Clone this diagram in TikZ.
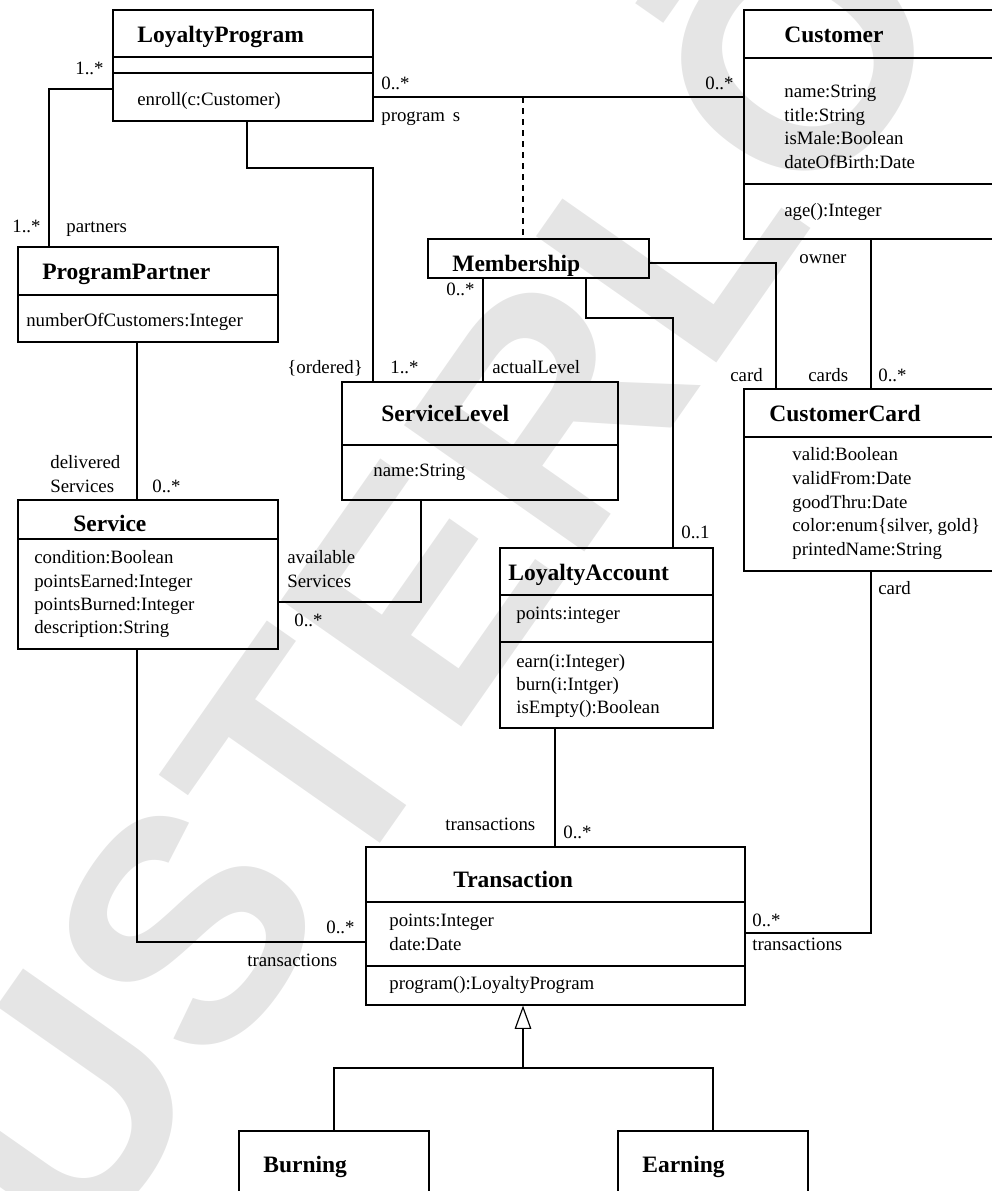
\documentclass[tikz,border=0pt]{standalone}
\usepackage{fontspec}
\setmainfont{Liberation Serif}
\newfontfamily\wmfont{Liberation Sans}
\usepackage{tikz}
\usetikzlibrary{arrows.meta,fit}
\definecolor{wm-gray}{RGB}{229,229,229}
\tikzset{
    cls/.style={draw, line width=0.7pt, inner sep=0pt},
    ttl/.style={font=\fontsize{14.1}{16}\selectfont\bfseries, inner sep=0pt, anchor=base west},
    txt/.style={font=\fontsize{11.3}{13}\selectfont, inner sep=0pt, anchor=base west},
    assoc/.style={line width=0.7pt},
}

\begin{document}
\begin{tikzpicture}[x=0.6pt, y=-0.6pt]
    \useasboundingbox (0,0) rectangle (992,1191);

    % watermark
    \node[wm-gray, font=\wmfont\fontsize{192}{192}\selectfont\bfseries, rotate=55, anchor=base, inner sep=0pt] (wm) at (710,373) {MUSTERLÖSUNG};

    % classes
    \node[cls, fit={(113,10) (373,121)}] (LP) {};
    \draw[line width=0.7pt] (113,57) -- (373,57) (113,73) -- (373,73);
    \node[ttl] (LP-name) at (137,42) {LoyaltyProgram};
    \node[txt] (LP-op1) at (137,105) {enroll(c:Customer)};

    \node[cls, fit={(744,10) (1000,239)}] (Cust) {};
    \draw[line width=0.7pt] (744,58) -- (1000,58) (744,184) -- (1000,184);
    \node[ttl] (Cust-name) at (784,42) {Customer};
    \node[txt] (Cust-at1) at (784,97) {name:String};
    \node[txt] (Cust-at2) at (784,121) {title:String};
    \node[txt] (Cust-at3) at (784,144) {isMale:Boolean};
    \node[txt] (Cust-at4) at (784,168) {dateOfBirth:Date};
    \node[txt] (Cust-op1) at (784,216) {age():Integer};

    \node[cls, fit={(428,239) (649,278)}] (Memb) {};
    \node[ttl] (Memb-name) at (452,271) {Membership};

    \node[cls, fit={(18,247) (278,342)}] (PP) {};
    \draw[line width=0.7pt] (18,295) -- (278,295);
    \node[ttl] (PP-name) at (42,279) {ProgramPartner};
    \node[txt] (PP-at1) at (26,326) {numberOfCustomers:Integer};

    \node[cls, fit={(342,382) (618,500)}] (SL) {};
    \draw[line width=0.7pt] (342,445) -- (618,445);
    \node[ttl] (SL-name) at (381,421) {ServiceLevel};
    \node[txt] (SL-at1) at (373,476) {name:String};

    \node[cls, fit={(744,389) (1000,571)}] (CC) {};
    \draw[line width=0.7pt] (744,437) -- (1000,437);
    \node[ttl] (CC-name) at (769,421) {CustomerCard};
    \node[txt] (CC-at1) at (792,460) {valid:Boolean};
    \node[txt] (CC-at2) at (792,484) {validFrom:Date};
    \node[txt] (CC-at3) at (792,508) {goodThru:Date};
    \node[txt] (CC-at4) at (792,531) {color:enum\{silver, gold\}};
    \node[txt] (CC-at5) at (792,555) {printedName:String};

    \node[cls, fit={(18,500) (278,649)}] (Serv) {};
    \draw[line width=0.7pt] (18,539) -- (278,539);
    \node[ttl] (Serv-name) at (73,531) {Service};
    \node[txt] (Serv-at1) at (34,563) {condition:Boolean};
    \node[txt] (Serv-at2) at (34,587) {pointsEarned:Integer};
    \node[txt] (Serv-at3) at (34,610) {pointsBurned:Integer};
    \node[txt] (Serv-at4) at (34,633) {description:String};

    \node[cls, fit={(500,548) (713,728)}] (LA) {};
    \draw[line width=0.7pt] (500,595) -- (713,595) (500,642) -- (713,642);
    \node[ttl] (LA-name) at (508,580) {LoyaltyAccount};
    \node[txt] (LA-at1) at (516,619) {points:integer};
    \node[txt] (LA-op1) at (516,667) {earn(i:Integer)};
    \node[txt] (LA-op2) at (516,690) {burn(i:Intger)};
    \node[txt] (LA-op3) at (516,713) {isEmpty():Boolean};

    \node[cls, fit={(366,847) (745,1005)}] (Trans) {};
    \draw[line width=0.7pt] (366,902) -- (745,902) (366,966) -- (745,966);
    \node[ttl] (Trans-name) at (453,887) {Transaction};
    \node[txt] (Trans-at1) at (389,926) {points:Integer};
    \node[txt] (Trans-at2) at (389,950) {date:Date};
    \node[txt] (Trans-op1) at (389,989) {program():LoyaltyProgram};

    \node[cls, fit={(239,1131) (429,1200)}] (Burn) {};
    \node[ttl] (Burn-name) at (263,1172) {Burning};
    \node[cls, fit={(618,1131) (808,1200)}] (Earn) {};
    \node[ttl] (Earn-name) at (642,1172) {Earning};

    % associations
    \coordinate (lp-pp) at (49,89);
    \draw[assoc] (LP.west |- lp-pp) -| (PP.north -| lp-pp);
    \node[txt] (lp-pp-m1) at (75,74) {1..*};
    \node[txt] (lp-pp-m2) at (12,232) {1..*};
    \node[txt] (lp-pp-r2) at (66,232) {partners};

    \coordinate (lp-cu) at (523,97);
    \draw[assoc] (LP.east |- lp-cu) -- (Cust.west |- lp-cu);
    \draw[assoc, dash pattern=on 3.6pt off 3pt] (lp-cu) -- (Memb.north -| lp-cu);
    \node[txt] (lp-cu-m1) at (381,89) {0..*};
    \node[txt] (lp-cu-r1) at (381,121) {program\,~s};
    \node[txt] (lp-cu-m2) at (705,89) {0..*};

    \coordinate (lp-sl) at (247,168);
    \coordinate (sl-in) at (373,168);
    \draw[assoc] (LP.south -| lp-sl) -- (lp-sl) -| (SL.north -| sl-in);
    \node[txt] (lp-sl-c) at (287,373) {\{ordered\}};
    \node[txt] (lp-sl-m) at (390,373) {1..*};

    \coordinate (me-sl) at (483,300);
    \draw[assoc] (Memb.south -| me-sl) -- (SL.north -| me-sl);
    \node[txt] (me-sl-m) at (446,295) {0..*};
    \node[txt] (me-sl-r) at (492,373) {actualLevel};

    \coordinate (me-la) at (586,318);
    \coordinate (la-in) at (673,318);
    \draw[assoc] (Memb.south -| me-la) -- (me-la) -| (LA.north -| la-in);
    \node[txt] (me-la-m) at (681,538) {0..1};

    \coordinate (me-cc) at (776,263);
    \draw[assoc] (Memb.east |- me-cc) -| (CC.north -| me-cc);
    \node[txt] (me-cc-r) at (730,381) {card};

    \coordinate (cu-cc) at (871,300);
    \draw[assoc] (Cust.south -| cu-cc) -- (CC.north -| cu-cc);
    \node[txt] (cu-cc-r1) at (799,263) {owner};
    \node[txt] (cu-cc-r2) at (808,381) {cards};
    \node[txt] (cu-cc-m) at (878,381) {0..*};

    \coordinate (pp-se) at (137,400);
    \draw[assoc] (PP.south -| pp-se) -- (Serv.north -| pp-se);
    \node[txt] (pp-se-r1) at (50,468) {delivered};
    \node[txt] (pp-se-r2) at (50,492) {Services};
    \node[txt] (pp-se-m) at (152,492) {0..*};

    \coordinate (sl-se) at (421,602);
    \draw[assoc] (SL.south -| sl-se) |- (Serv.east |- sl-se);
    \node[txt] (sl-se-r1) at (287,563) {available};
    \node[txt] (sl-se-r2) at (287,587) {Services};
    \node[txt] (sl-se-m) at (294,626) {0..*};

    \coordinate (se-tr) at (137,942);
    \draw[assoc] (Serv.south -| se-tr) |- (Trans.west |- se-tr);
    \node[txt] (se-tr-m) at (326,933) {0..*};
    \node[txt] (se-tr-r) at (247,966) {transactions};

    \coordinate (la-tr) at (555,800);
    \draw[assoc] (LA.south -| la-tr) -- (Trans.north -| la-tr);
    \node[txt] (la-tr-r) at (445,830) {transactions};
    \node[txt] (la-tr-m) at (563,838) {0..*};

    \coordinate (cc-tr) at (871,933);
    \draw[assoc] (CC.south -| cc-tr) |- (Trans.east |- cc-tr);
    \node[txt] (cc-tr-r1) at (878,594) {card};
    \node[txt] (cc-tr-m) at (752,926) {0..*};
    \node[txt] (cc-tr-r2) at (752,950) {transactions};

    % generalization
    \coordinate (gen) at (523,1068);
    \draw[assoc] (Burn.north) |- (gen) -| (Earn.north);
    \draw[assoc, -{Triangle[open, length=14pt, width=10pt]}] (gen) -- (Trans.south -| gen);
\end{tikzpicture}
\end{document}
